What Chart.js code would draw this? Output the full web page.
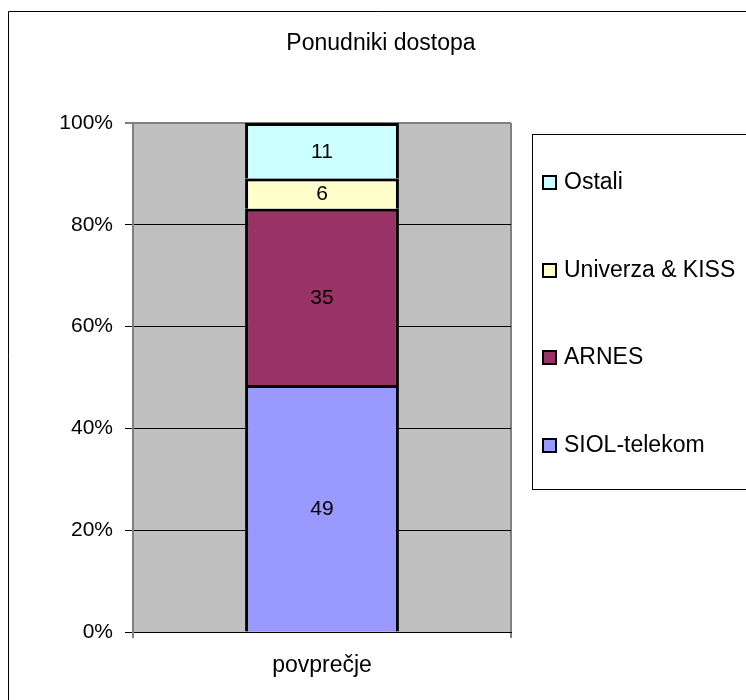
<!DOCTYPE html>
<html>
<head>
<meta charset="utf-8">
<script src="https://cdn.jsdelivr.net/npm/chart.js@4/dist/chart.umd.min.js"></script>
<style>
  html, body { margin: 0; padding: 0; background: #fff; }
  #wrap { width: 746px; height: 700px; }
</style>
</head>
<body>
<div id="wrap"><canvas id="myChart" width="746" height="700"></canvas></div>
<script>
let chartTitle = "Ponudniki dostopa";
let categories = ["povprečje"];
let seriesNames = ["SIOL-telekom", "ARNES", "Univerza & KISS", "Ostali"];
let siolValues = [49];
let arnesValues = [35];
let univerzaValues = [6];
let ostaliValues = [11];
let tickLabels = ["0%", "20%", "40%", "60%", "80%", "100%"];
let seriesColors = ["#9999ff", "#993366", "#ffffcc", "#ccffff"];

let allValues = [siolValues, arnesValues, univerzaValues, ostaliValues];
// 100% stacked: turn every column into shares of its total
let totals = categories.map((c, i) => allValues.reduce((s, v) => s + v[i], 0));
let toPercent = (values) => values.map((v, i) => (v / totals[i]) * 100);

let font = "'Liberation Sans', Arial, sans-serif";

// grey plot area, outer frame, bar labels and boxed legend
let excelLook = {
  id: "excelLook",
  beforeDraw(chart) {
    let { ctx, chartArea } = chart;
    ctx.save();
    ctx.fillStyle = "#c0c0c0";
    ctx.fillRect(chartArea.left, chartArea.top, chartArea.right - chartArea.left, chartArea.bottom - chartArea.top);
    ctx.strokeStyle = "#000";
    ctx.lineWidth = 1;
    ctx.beginPath();
    ctx.moveTo(8.5, 700);
    ctx.lineTo(8.5, 11.5);
    ctx.lineTo(746, 11.5);
    ctx.stroke();
    ctx.restore();
  },
  afterDatasetsDraw(chart) {
    let { ctx } = chart;
    ctx.save();
    ctx.fillStyle = "#000";
    ctx.font = "21px " + font;
    ctx.textAlign = "center";
    ctx.textBaseline = "middle";
    chart.data.datasets.forEach((ds, di) => {
      chart.getDatasetMeta(di).data.forEach((bar, i) => {
        ctx.fillText(String(ds.rawValues[i]), bar.x, (bar.y + bar.base) / 2 + 1);
      });
    });
    ctx.restore();
  },
  afterDraw(chart) {
    let { ctx } = chart;
    ctx.save();
    ctx.strokeStyle = "#000";
    ctx.lineWidth = 1;
    ctx.strokeRect(532.5, 134.5, 240, 355);
    ctx.font = "23px " + font;
    ctx.textAlign = "left";
    ctx.textBaseline = "middle";
    let items = chart.data.datasets.slice().reverse();
    items.forEach((ds, i) => {
      let y = Math.round(182 + i * 87.7);
      ctx.fillStyle = ds.backgroundColor;
      ctx.fillRect(543, y - 6, 13, 13);
      ctx.lineWidth = 2;
      ctx.strokeRect(543, y - 6, 13, 13);
      ctx.fillStyle = "#000";
      ctx.fillText(ds.label, 564, y + 1);
    });
    ctx.restore();
  },
};

const barChart = document.getElementById("myChart").getContext("2d");
const barChartValue = new Chart(barChart, {
  type: "bar",
  data: {
    labels: categories,
    datasets: allValues.map((values, i) => ({
      label: seriesNames[i],
      data: toPercent(values),
      rawValues: values,
      backgroundColor: seriesColors[i],
      borderColor: "#000",
      borderWidth: 3,
      categoryPercentage: 1,
      barPercentage: 0.407,
    })),
  },
  options: {
    responsive: false,
    animation: false,
    layout: { padding: { left: 16, top: 0, right: 0, bottom: 0 } },
    plugins: {
      legend: { display: false },
      tooltip: { enabled: false },
      title: {
        display: true,
        text: chartTitle,
        color: "#000",
        font: { family: font, size: 23, weight: "normal" },
        padding: { top: 30.2, bottom: 65.2 },
      },
    },
    scales: {
      x: {
        stacked: true,
        grid: { color: "#808080", lineWidth: 2, tickColor: "#000", tickLength: 6, tickWidth: 1 },
        border: { color: "#000", width: 1 },
        ticks: { color: "#000", font: { family: font, size: 23 }, padding: 14 },
        afterFit: (scale) => {
          scale.height = 68;
        },
      },
      y: {
        stacked: true,
        min: 0,
        max: 100,
        ticks: {
          stepSize: 20,
          color: "#000",
          font: { family: font, size: 21 },
          padding: 12,
          callback: (value, index) => tickLabels[index],
        },
        grid: {
          color: (c) => (c.tick.value === 100 ? "#808080" : "#000"),
          lineWidth: (c) => (c.tick.value === 100 ? 2 : 1),
          tickColor: "#000",
          tickLength: 8,
          tickWidth: 1,
        },
        border: { color: "#808080", width: 2 },
        afterFit: (scale) => {
          scale.width = 117;
        },
      },
      legendSpace: {
        type: "linear",
        position: "right",
        display: true,
        grid: { display: false },
        ticks: { display: false },
        border: { display: false },
        afterFit: (scale) => {
          scale.width = 235;
        },
      },
    },
  },
  plugins: [excelLook],
});
</script>
</body>
</html>
